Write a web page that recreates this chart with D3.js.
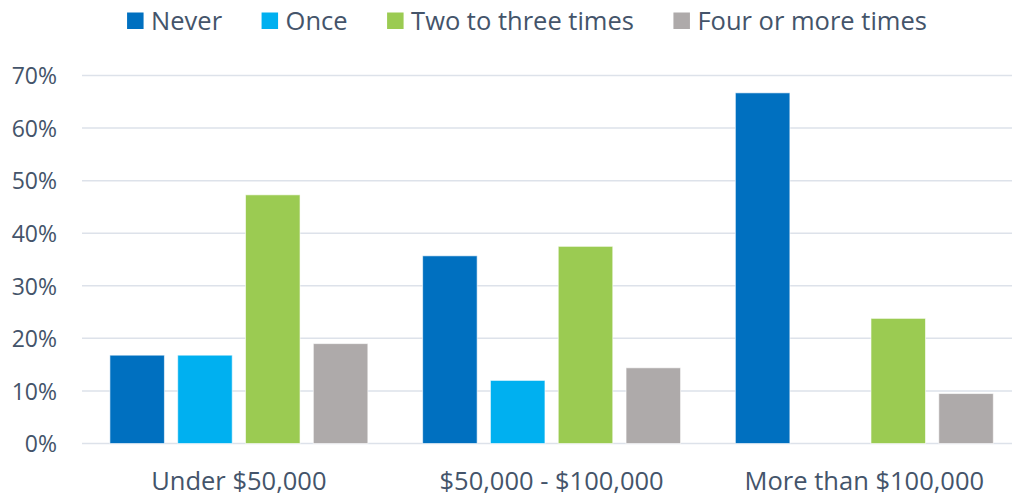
<!DOCTYPE html>
<html>
<head>
<meta charset="utf-8">
<script src="https://cdn.jsdelivr.net/npm/d3@7"></script>
<style>
  body { margin: 0; background: #fff; }
  text { font-family: "Open Sans", sans-serif; fill: #44546A; }
</style>
</head>
<body>
<div id="chart"></div>
<script>
// income groups and the four answer series
const categories = ["Under $50,000", "$50,000 - $100,000", "More than $100,000"];
const seriesNames = ["Never", "Once", "Two to three times", "Four or more times"];
const never = [16.8, 35.7, 66.7];
const once = [16.8, 12.0, 0];
const twoToThree = [47.3, 37.5, 23.8];
const fourOrMore = [19.0, 14.4, 9.5];
const yTicks = [0, 10, 20, 30, 40, 50, 60, 70];
const colors = ["#0070C0", "#00B0F0", "#9BCB52", "#AEAAAA"];

const allSeries = [never, once, twoToThree, fourOrMore];
const rows = categories.map((c, i) => ({
  cat: c,
  vals: seriesNames.map((s, j) => ({ key: s, value: allSeries[j][i] }))
}));

const W = 1012, H = 497;
const svg = d3.select("#chart").append("svg").attr("width", W).attr("height", H);

// scales (plot runs a bit past the right edge, like the source)
const x0 = d3.scaleBand().domain(categories).range([82.5, 1020.7]);
const x1 = d3.scaleBand().domain(seriesNames).range([0, x0.bandwidth()])
  .paddingInner(0.196).paddingOuter(0.404);
const y = d3.scaleLinear().domain([0, 70]).range([443.5, 75.5]);

// gridlines
svg.append("g").selectAll("line").data(yTicks).join("line")
  .attr("x1", 82).attr("x2", W)
  .attr("y1", d => y(d)).attr("y2", d => y(d))
  .attr("stroke", "#DDE2EA").attr("stroke-width", 1.5);

// y axis labels
svg.append("g").attr("class", "y-axis")
  .attr("transform", "translate(57,0)")
  .call(d3.axisLeft(y).tickValues(yTicks).tickFormat(d => d + "%").tickSize(0).tickPadding(0))
  .call(g => g.select(".domain").remove())
  .selectAll("text").style("font-size", "23px").attr("dy", "0.36em");

// bars
const groups = svg.append("g").selectAll("g").data(rows).join("g")
  .attr("transform", d => `translate(${x0(d.cat)},0)`);
groups.selectAll("rect").data(d => d.vals.filter(v => v.value > 0)).join("rect")
  .attr("x", d => x1(d.key))
  .attr("width", x1.bandwidth())
  .attr("y", d => y(d.value))
  .attr("height", d => y(0) - y(d.value))
  .attr("fill", d => colors[seriesNames.indexOf(d.key)])
  .attr("stroke", "#fff").attr("stroke-opacity", 0.6).attr("stroke-width", 1);

// category labels
svg.append("g").selectAll("text").data(categories).join("text")
  .attr("x", d => x0(d) + x0.bandwidth() / 2)
  .attr("y", 490)
  .attr("text-anchor", "middle")
  .style("font-size", "25.5px")
  .text(d => d);

// legend, centred
const legend = svg.append("g");
const items = legend.selectAll("g").data(seriesNames).join("g");
items.append("rect").attr("width", 16.5).attr("height", 16.5).attr("y", 12.5)
  .attr("fill", (d, i) => colors[i]);
items.append("text").attr("x", 24).attr("y", 29.5).style("font-size", "25.5px").text(d => d);
let pos = 0;
items.each(function () {
  const w = d3.select(this).select("text").node().getComputedTextLength();
  d3.select(this).attr("transform", `translate(${pos},0)`);
  pos += 24 + w + 39.5;
});
const total = pos - 39.5;
legend.attr("transform", `translate(${527 - total / 2},0)`);
</script>
</body>
</html>
